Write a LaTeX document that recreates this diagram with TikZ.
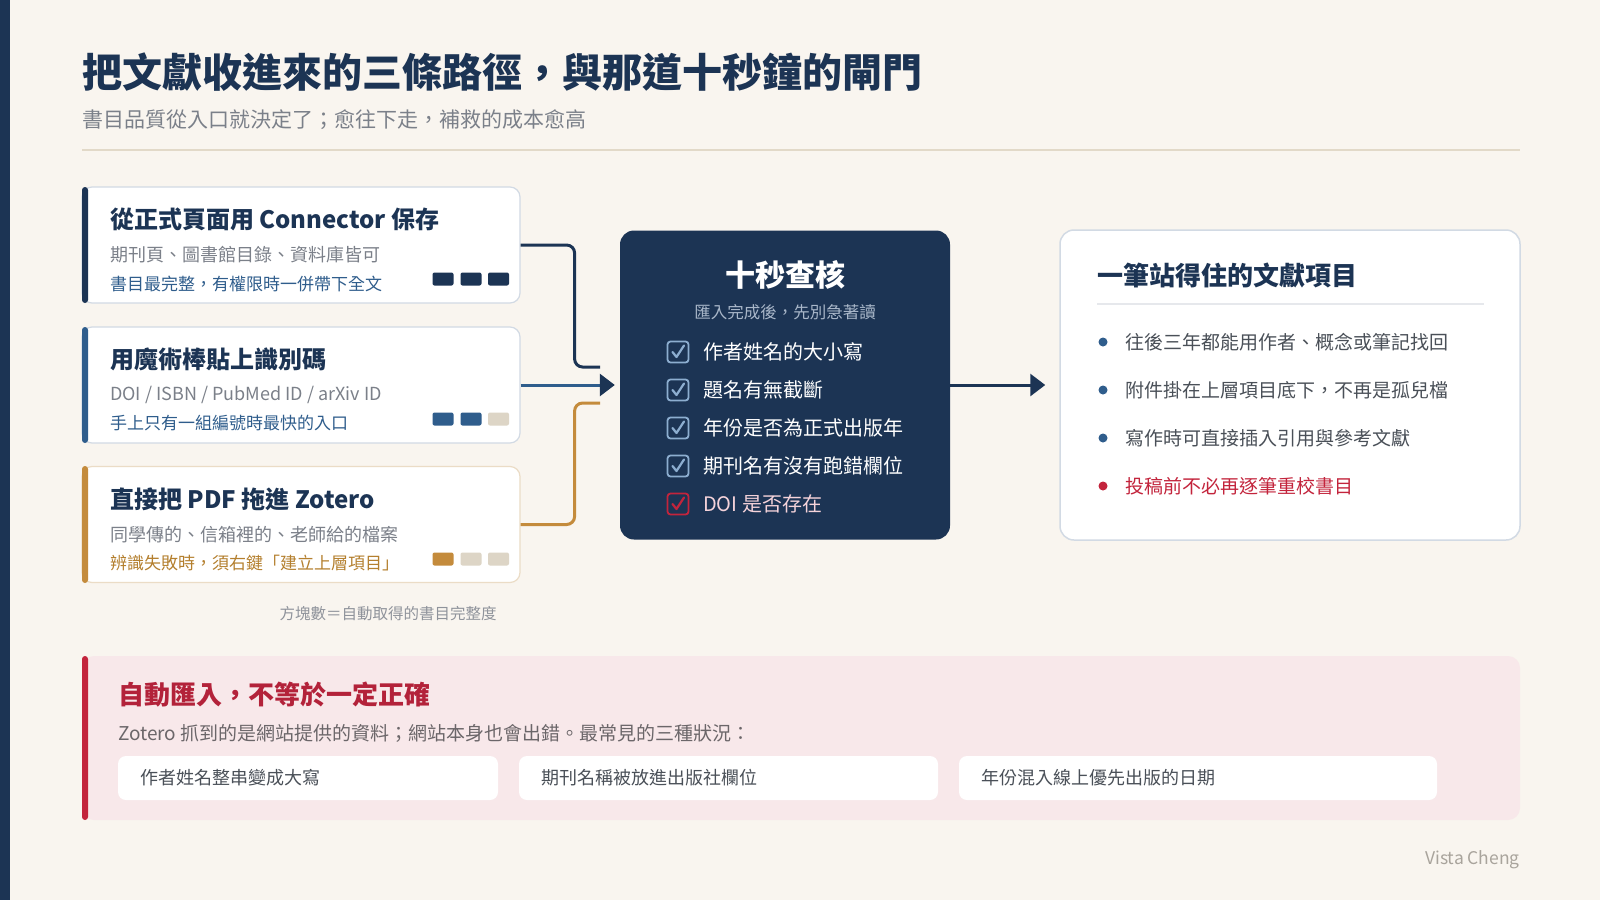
\documentclass[tikz,border=0pt]{standalone}
\usepackage{fontspec}
\setmainfont{Noto Sans CJK TC}
\usetikzlibrary{arrows.meta,calc}
\definecolor{bg}{HTML}{F9F5EF}
\definecolor{navy}{HTML}{1C3454}
\definecolor{cblue}{HTML}{2F5D8C}
\definecolor{gold}{HTML}{C48B3C}
\definecolor{goldtxt}{HTML}{B47F2E}
\definecolor{sqoff}{HTML}{DDD5C6}
\definecolor{redc}{HTML}{C3243C}
\definecolor{redtitle}{HTML}{B3223A}
\definecolor{pinkbg}{HTML}{F8E8EA}
\definecolor{graytxt}{HTML}{7B8089}
\definecolor{darktxt}{HTML}{4A5058}
\definecolor{cardline}{HTML}{D2DAE4}
\definecolor{goldborder}{HTML}{EBDCC6}
\definecolor{rulec}{HTML}{E2D9C8}
\definecolor{chk}{HTML}{8DAED0}
\definecolor{subtle}{HTML}{A9B7C9}
\definecolor{pinktxt}{HTML}{F5D3DA}
\definecolor{bodytxt}{HTML}{6B6669}
\definecolor{sign}{HTML}{A9A49C}
\definecolor{seprule}{HTML}{E6E8EC}
\newcommand\pxs[1]{\fontsize{#1}{#1}\selectfont}
\tikzset{
  txt/.style={anchor=west, inner sep=0pt},
  card/.style={draw=cardline, line width=1.2pt, fill=white, rounded corners=10pt, minimum width=438pt, minimum height=116pt, inner sep=0pt},
  cardtitle/.style={txt, text=navy, font=\bfseries\pxs{24}},
  cardsub/.style={txt, text=graytxt, font=\pxs{18}},
  sq/.style={rounded corners=2pt, minimum width=21pt, minimum height=13pt, inner sep=0pt},
  conn/.style={line width=3pt, rounded corners=8pt},
  chkitem/.style={txt, text=white, font=\pxs{20}},
  bullet/.style={txt, text=darktxt, font=\pxs{19}},
  subbox/.style={fill=white, rounded corners=8pt, minimum height=44pt, inner sep=0pt},
  subtxt/.style={txt, text=darktxt, font=\pxs{18}},
  cbox/.pic={
    \draw[rounded corners=3pt, line width=1.8pt] (-10.5,-10.5) rectangle (10.5,10.5);
    \draw[line width=2.2pt, line cap=round, line join=round] (-5.5,0) -- (-1.5,5) -- (6,-6.5);
  }
}
\begin{document}
\begin{tikzpicture}[x=1pt,y=-1pt]
\useasboundingbox (0,0) rectangle (1600,900);
\fill[bg] (0,0) rectangle (1600,900);
\fill[navy] (0,0) rectangle (10,900);

% header
\node[txt, text=navy, font=\bfseries\pxs{40}] (title) at (82,72) {把文獻收進來的三條路徑，與那道十秒鐘的閘門};
\node[txt, text=graytxt, font=\pxs{21}] (subtitle) at (82,119.5) {書目品質從入口就決定了；愈往下走，補救的成本愈高};
\draw[rulec, line width=2pt] (82,150) -- (1520,150);

% cards
\node[card] (c1) at (301,245) {};
\node[card] (c2) at (301,385) {};
\node[card, draw=goldborder] (c3) at (301,524.5) {};
\fill[navy, rounded corners=3pt] (82,187) rectangle (88,303);
\fill[cblue, rounded corners=3pt] (82,327) rectangle (88,443);
\fill[gold, rounded corners=3pt] (82,466) rectangle (88,583);

\node[cardtitle] (c1t) at (110,219) {從正式頁面用 Connector 保存};
\node[cardsub] (c1s) at (110,255) {期刊頁、圖書館目錄、資料庫皆可};
\node[txt, text=cblue, font=\pxs{17}] (c1n) at (110,284) {書目最完整，有權限時一併帶下全文};
\node[sq, fill=navy] (c1q1) at (443,279) {};
\node[sq, fill=navy] (c1q2) at (471,279) {};
\node[sq, fill=navy] (c1q3) at (498.5,279) {};

\node[cardtitle] (c2t) at (110,359) {用魔術棒貼上識別碼};
\node[cardsub] (c2s) at (110,395) {DOI / ISBN / PubMed ID / arXiv ID};
\node[txt, text=cblue, font=\pxs{17}] (c2n) at (110,423.5) {手上只有一組編號時最快的入口};
\node[sq, fill=cblue] (c2q1) at (443,419) {};
\node[sq, fill=cblue] (c2q2) at (471,419) {};
\node[sq, fill=sqoff] (c2q3) at (498.5,419) {};

\node[cardtitle] (c3t) at (110,499) {直接把 PDF 拖進 Zotero};
\node[cardsub] (c3s) at (110,535) {同學傳的、信箱裡的、老師給的檔案};
\node[txt, text=goldtxt, font=\pxs{17}] (c3n) at (110,563) {辨識失敗時，須右鍵「建立上層項目」};
\node[sq, fill=gold] (c3q1) at (443,559) {};
\node[sq, fill=sqoff] (c3q2) at (471,559) {};
\node[sq, fill=sqoff] (c3q3) at (498.5,559) {};

\node[text=graytxt!85, font=\pxs{15.5}, inner sep=0pt] (cap) at (388,614) {方塊數＝自動取得的書目完整度};

% center check box
\node[fill=navy, rounded corners=14pt, minimum width=330pt, minimum height=309pt, inner sep=0pt] (chkbox) at (785,385) {};
\node[text=white, font=\bfseries\pxs{30}, inner sep=0pt] (chkt) at (785,275) {十秒查核};
\node[text=subtle, font=\pxs{16.5}, inner sep=0pt] (chks) at (785,312) {匯入完成後，先別急著讀};
\pic[color=chk] at (678,352) {cbox};
\pic[color=chk] at (678,390) {cbox};
\pic[color=chk] at (678,428) {cbox};
\pic[color=chk] at (678,466) {cbox};
\pic[color=redc] at (678,504) {cbox};
\node[chkitem] (k1) at (703,352) {作者姓名的大小寫};
\node[chkitem] (k2) at (703,390) {題名有無截斷};
\node[chkitem] (k3) at (703,428) {年份是否為正式出版年};
\node[chkitem] (k4) at (703,466) {期刊名有沒有跑錯欄位};
\node[chkitem, text=pinktxt] (k5) at (703,504) {DOI 是否存在};

% right box
\node[draw=cardline, line width=1.5pt, fill=white, rounded corners=14pt, minimum width=460pt, minimum height=310pt, inner sep=0pt] (res) at (1290,385) {};
\node[txt, text=navy, font=\bfseries\pxs{26}] (rest) at (1097,275) {一筆站得住的文獻項目};
\draw[seprule, line width=1.5pt] (1097,304) -- (1484,304);
\fill[cblue] (1103,342) circle (4.5);
\fill[cblue] (1103,390) circle (4.5);
\fill[cblue] (1103,438) circle (4.5);
\fill[redc] (1103,486) circle (4.5);
\node[bullet] (b1) at (1125,342) {往後三年都能用作者、概念或筆記找回};
\node[bullet] (b2) at (1125,390) {附件掛在上層項目底下，不再是孤兒檔};
\node[bullet] (b3) at (1125,438) {寫作時可直接插入引用與參考文獻};
\node[bullet, text=redc] (b4) at (1125,486) {投稿前不必再逐筆重校書目};

% connectors
\coordinate (m1) at (600,367);
\coordinate (m3) at (600,403);
\draw[conn, navy] (c1.east) -- ++(54,0) |- (m1);
\draw[conn, gold] (c3.east) -- ++(54,0) |- (m3);
\draw[line width=3pt, cblue, shorten >=5pt, -{Triangle[length=15pt, width=22pt, color=navy]}] (c2.east) -- (chkbox.west);
\draw[line width=3pt, navy, shorten >=14pt, -{Triangle[length=15pt, width=22pt]}] (chkbox.east) -- (res.west);

% bottom panel
\node[fill=pinkbg, rounded corners=12pt, minimum width=1438pt, minimum height=164pt, inner sep=0pt] (warn) at (801,738) {};
\fill[redc, rounded corners=3pt] (82,656) rectangle (88,820);
\node[txt, text=redtitle, font=\bfseries\pxs{26}] (warnt) at (118,695) {自動匯入，不等於一定正確};
\node[txt, text=bodytxt, font=\pxs{19}] (warns) at (118,733) {Zotero 抓到的是網站提供的資料；網站本身也會出錯。最常見的三種狀況：};
\node[subbox, minimum width=380pt] (s1) at (308,778) {};
\node[subbox, minimum width=419pt] (s2) at (728.5,778) {};
\node[subbox, minimum width=478pt] (s3) at (1198,778) {};
\node[subtxt] (s1t) at (140,778) {作者姓名整串變成大寫};
\node[subtxt] (s2t) at (541,778) {期刊名稱被放進出版社欄位};
\node[subtxt] (s3t) at (981,778) {年份混入線上優先出版的日期};

\node[anchor=east, inner sep=0pt, text=sign, font=\pxs{17.5}] (sig) at (1520,860) {Vista Cheng};
\end{tikzpicture}
\end{document}
